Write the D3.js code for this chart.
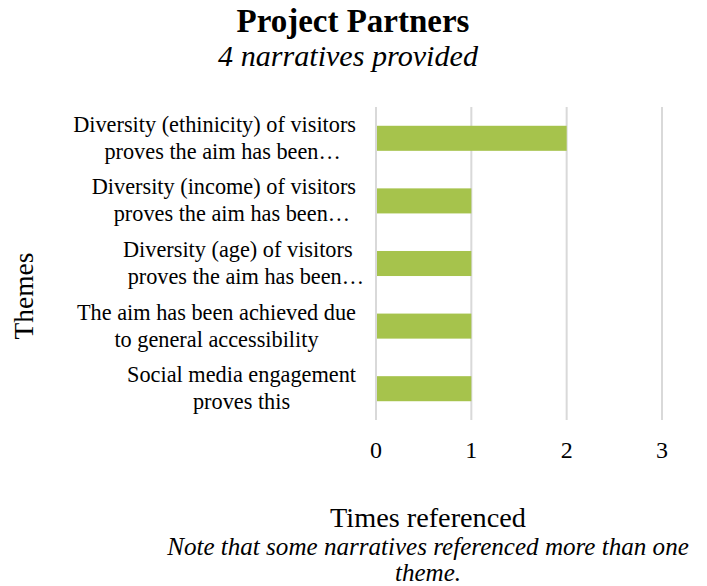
<!DOCTYPE html>
<html><head><meta charset="utf-8">
<script src="https://cdn.jsdelivr.net/npm/d3@7"></script>
<style>body{margin:0;background:#fff}svg{display:block}text{font-family:"Liberation Serif","DejaVu Serif",serif;fill:#000}</style>
</head><body>
<script>
const categories = [
  ["Diversity (ethinicity) of visitors","proves the aim has been…"],
  ["Diversity (income) of visitors","proves the aim has been…"],
  ["Diversity (age) of visitors","proves the aim has been…"],
  ["The aim has been achieved due","to general accessibility"],
  ["Social media engagement","proves this"]
];
const values = [2, 1, 1, 1, 1];
const xTicks = [0, 1, 2, 3];
const title = "Project Partners";
const subtitle = "4 narratives provided";
const xTitle = "Times referenced";
const note = ["Note that some narratives referenced more than one", "theme."];
const yTitle = "Themes";

const W = 707, H = 586;
const svg = d3.select("body").append("svg").attr("width", W).attr("height", H);
const x = d3.scaleLinear().domain([0, 3]).range([376, 662]);
const y = d3.scaleBand().domain(d3.range(categories.length)).range([107, 420]).paddingInner(0.6).paddingOuter(0.3);

// fit font size so text width matches target
function fitSize(sel, base, target) {
  sel.style("font-size", base + "px");
  const w = sel.node().getComputedTextLength();
  const s = base * target / w;
  sel.style("font-size", s + "px");
  return s;
}

// gridlines
svg.append("g").selectAll("line").data(xTicks).join("line")
  .attr("x1", d => x(d)).attr("x2", d => x(d)).attr("y1", 107).attr("y2", 420)
  .attr("stroke", "#d9d9d9").attr("stroke-width", 2);

// bars
svg.append("g").selectAll("rect").data(values).join("rect")
  .attr("x", x(0) + 1).attr("y", (d, i) => y(i))
  .attr("width", d => x(d) - x(0) - 1).attr("height", y.bandwidth())
  .attr("fill", "#A6C34C");

// x tick labels
svg.append("g").selectAll("text").data(xTicks).join("text")
  .attr("x", d => x(d)).attr("y", 458).attr("text-anchor", "middle")
  .style("font-size", "24px").text(d => d);

// category labels
const probe = svg.append("text").text(categories[0][0]);
const labSize = fitSize(probe, 18, 283);
probe.remove();
const lab = svg.append("g");
categories.forEach((lines, i) => {
  const cy = y(i) + y.bandwidth() / 2;
  const g = lab.append("g");
  const ts = lines.map((l, j) => g.append("text").attr("y", cy + (j - 0.5) * 27 + 7)
    .style("font-size", labSize + "px").text(l));
  const widths = ts.map(t => t.node().getComputedTextLength());
  const bw = Math.max(widths[0], widths[1]);
  const right = 356;
  ts.forEach((t, j) => {
    const shift = lines[j].endsWith("…") ? 8 : 0;
    t.attr("x", right - bw / 2 + shift).attr("text-anchor", "middle");
  });
});

// titles
const t1 = svg.append("text").attr("x", 353).attr("y", 32).attr("text-anchor", "middle")
  .style("font-weight", "bold").text(title);
fitSize(t1, 24, 233);
const t2 = svg.append("text").attr("x", 348).attr("y", 66).attr("text-anchor", "middle")
  .style("font-style", "italic").text(subtitle);
fitSize(t2, 24, 260);
const xt = svg.append("text").attr("x", 428).attr("y", 527).attr("text-anchor", "middle").text(xTitle);
fitSize(xt, 22, 196);
const n1 = svg.append("text").attr("x", 428).attr("y", 555).attr("text-anchor", "middle")
  .style("font-style", "italic").text(note[0]);
const ns = fitSize(n1, 19, 522);
svg.append("text").attr("x", 428).attr("y", 581).attr("text-anchor", "middle")
  .style("font-style", "italic").style("font-size", ns + "px").text(note[1]);
const yt = svg.append("text").attr("transform", "translate(33,296) rotate(-90)").attr("text-anchor", "middle").text(yTitle);
fitSize(yt, 22, 87);
</script>
</body></html>
